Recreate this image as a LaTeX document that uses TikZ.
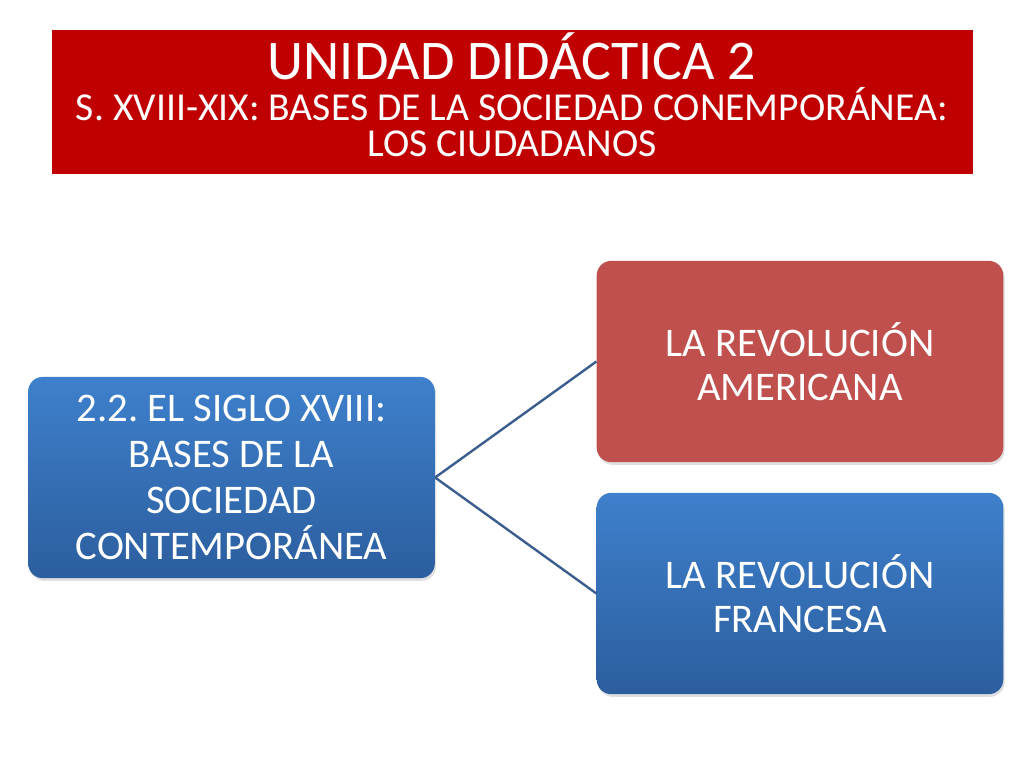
\documentclass[tikz,border=0pt]{standalone}
\usepackage{fontspec}
\setmainfont{Carlito}
\usetikzlibrary{positioning, shadows}
\frenchspacing

\definecolor{titlered}{HTML}{C00000}
\definecolor{boxred}{HTML}{C0504D}
\definecolor{boxbluetop}{HTML}{3E80CC}
\definecolor{boxbluebot}{HTML}{2C5E9E}
\definecolor{linkblue}{HTML}{3B5E8F}

\begin{document}
\begin{tikzpicture}[x = 0.75pt, y = -0.75pt, every node/.style = {text = white},
	topic/.style = {rounded corners = 11pt, minimum width = 305pt, minimum height = 151pt,
		align = center, inner sep = 0pt, font = \fontsize{30.5}{34.5}\selectfont,
		drop shadow = {opacity = 0.25, shadow xshift = 1pt, shadow yshift = -2pt}},
	bluebox/.style = {topic, top color = boxbluetop, bottom color = boxbluebot},
	redbox/.style = {topic, fill = boxred}]

	% Definitions

	\def\W{1024}	% Slide width
	\def\H{768}		% Slide height

	\useasboundingbox (0, 0) rectangle (\W, \H);

	% Title banner

	\fill [titlered] (52, 30) rectangle (973, 174);
	\node [anchor = base, font = \fontsize{42}{42}\selectfont] (unit) at (512, 79) {UNIDAD DIDÁCTICA 2};
	\node [anchor = base, font = \fontsize{29.7}{29.7}\selectfont] (period) at (512, 120) {S. XVIII-XIX: BASES DE LA SOCIEDAD CONEMPORÁNEA:};
	\node [anchor = base, font = \fontsize{29.7}{29.7}\selectfont] (citizens) at (512, 156) {LOS CIUDADANOS};

	% Topic boxes

	\node [bluebox] (century) at (231.5, 477.5) {2.2. EL SIGLO XVIII:\\BASES DE LA\\SOCIEDAD\\CONTEMPORÁNEA};
	\node [redbox, font = \fontsize{30.5}{33}\selectfont] (american) at (800, 361.5) {LA REVOLUCIÓN\\AMERICANA};
	\node [bluebox, font = \fontsize{30.5}{33}\selectfont] (french) at (800, 593.5) {LA REVOLUCIÓN\\FRANCESA};

	% Links

	\begin{scope}[linkblue, line width = 1.8pt]

		\draw (century.east) -- (american.west);
		\draw (century.east) -- (french.west);

	\end{scope}

\end{tikzpicture}
\end{document}
